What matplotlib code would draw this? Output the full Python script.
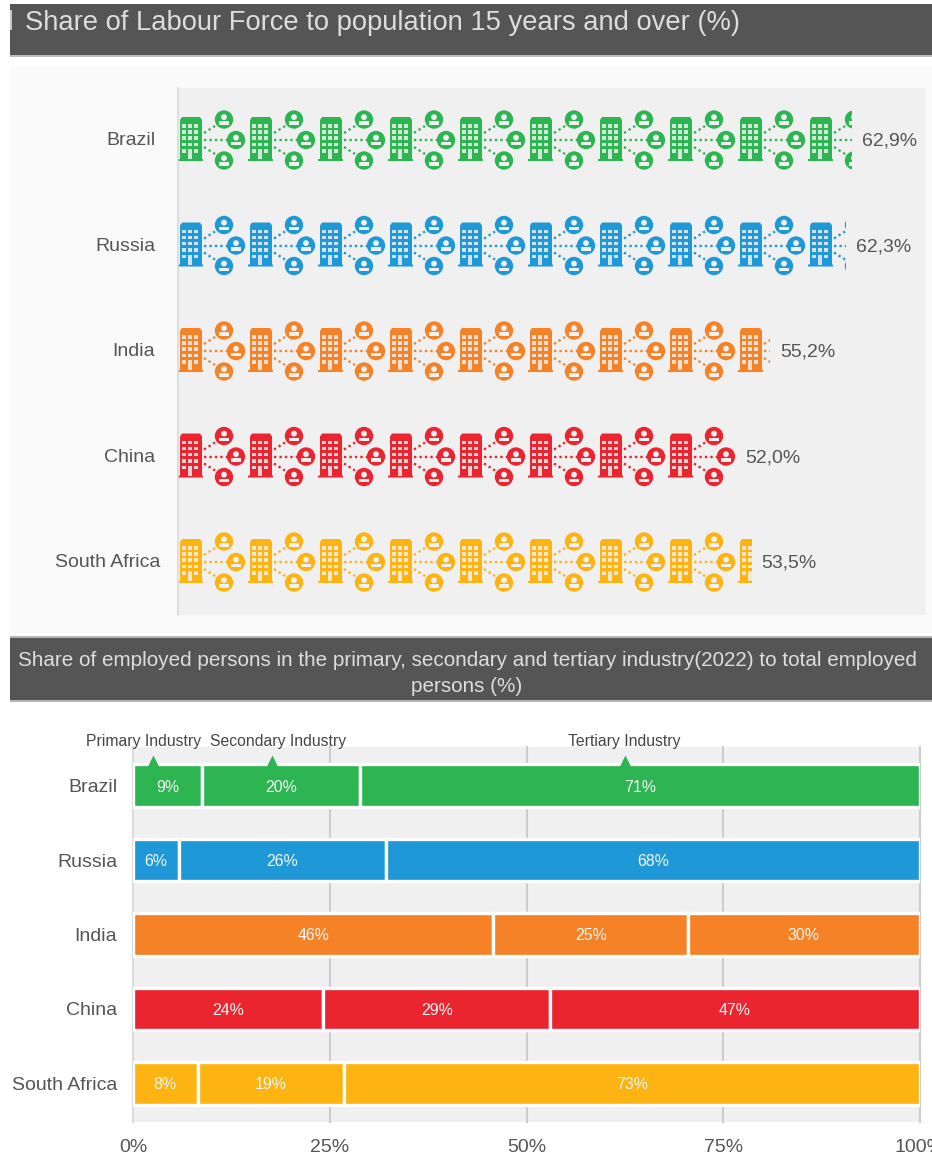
import matplotlib
matplotlib.use("Agg")
import matplotlib.pyplot as plt
from matplotlib.patches import Rectangle, Circle, Polygon
from matplotlib.lines import Line2D
from matplotlib.transforms import Affine2D, ScaledTranslation

plt.rcParams['font.family'] = ['Liberation Sans', 'DejaVu Sans']

countries = ["Brazil", "Russia", "India", "China", "South Africa"]
colors = ["#2db552", "#1e98d6", "#f58227", "#ea2530", "#fdb413"]
labour_share = [62.9, 62.3, 55.2, 52.0, 53.5]
primary = [8.8, 5.8, 45.8, 24.2, 8.2]
secondary = [20.1, 26.3, 24.7, 28.8, 18.6]
tertiary = [71.1, 67.9, 29.5, 47.0, 73.2]
industry_names = ["Primary Industry", "Secondary Industry", "Tertiary Industry"]
x_ticks = [0, 25, 50, 75, 100]
title_top = "Share of Labour Force to population 15 years and over (%)"
title_bottom = ("Share of employed persons in the primary, secondary and tertiary "
                "industry(2022) to total employed\npersons (%)")

W, H = 932, 1155
TEXT = "#555555"
PANEL = "#f0f0f0"
fig = plt.figure(figsize=(W / 100, H / 100), dpi=100, facecolor="white")


def px_axes(x0, y0, x1, y1):
    return fig.add_axes([x0 / W, 1 - y1 / H, (x1 - x0) / W, (y1 - y0) / H])


def px_rect(x0, y0, x1, y1, color):
    fig.patches.append(Rectangle((x0 / W, 1 - y1 / H), (x1 - x0) / W, (y1 - y0) / H,
                                 transform=fig.transFigure, facecolor=color,
                                 edgecolor="none", zorder=-5))


# page furniture
px_rect(10, 4, W, 56, "#555555")
px_rect(10, 55, W, 57, "#bdbdbd")
px_rect(10, 10, 12, 30, "#c9c9c9")
px_rect(10, 66, W, 633, "#fafafa")
px_rect(10, 637, W, 701, "#555555")
px_rect(10, 636, W, 638, "#b5b5b5")
px_rect(10, 700, W, 702, "#b5b5b5")
fig.text(25 / W, 1 - 23 / H, title_top, color="#dddddd", fontsize=19.7, ha="left", va="center")
fig.text(467 / W, 1 - 673.5 / H, title_bottom, color="#dddddd", fontsize=14.9, ha="center",
         va="center", multialignment="center", linespacing=1.48)

# ---------- top pictogram ----------
PX_PER_PCT = 10.72
PX_PER_ROW = 105.5
PERIOD_PX = 70.0
ax1 = px_axes(178, 88, 926, 615)
ax1.set_facecolor(PANEL)
ax1.set_xlim(0, 748 / PX_PER_PCT)
ax1.set_ylim(4.502, -0.493)
for s in ["top", "right", "bottom"]:
    ax1.spines[s].set_visible(False)
ax1.spines["left"].set_color("#d8d8d8")
ax1.spines["left"].set_linewidth(1.2)
ax1.set_xticks([])
ax1.set_yticks(range(len(countries)), countries)
ax1.tick_params(axis="y", length=0, pad=16.5, labelsize=14, labelcolor=TEXT)
for i, lab in enumerate(ax1.get_yticklabels()):
    dx = 5 if i == len(countries) - 1 else 0
    lab.set_transform(lab.get_transform() + ScaledTranslation(dx / 100, 1.2 / 100, fig.dpi_scale_trans))


def draw_icon(ax, row, idx, color, clip):
    tr = Affine2D().translate(idx * PERIOD_PX, 0).scale(1 / PX_PER_PCT, 1 / PX_PER_ROW) \
        .translate(0, row) + ax.transData
    items = [
        Polygon([(2, -20), (4, -23), (22, -23), (24, -20), (24, 19), (25, 19), (25, 21),
                 (0, 21), (0, 19), (2, 19)], closed=True, facecolor=color, edgecolor="none"),
    ]
    for wx in (4.3, 10, 15.8):
        for wy in (-16, -10, -4, 2.5):
            items.append(Rectangle((wx, wy), 4, 3.6, facecolor=PANEL, edgecolor="none", alpha=0.85))
    for wx in (4.3, 15.8):
        items.append(Rectangle((wx, 9), 4, 3.6, facecolor=PANEL, edgecolor="none", alpha=0.85))
    items.append(Rectangle((10, 9), 4, 10, facecolor=PANEL, edgecolor="none", alpha=0.85))
    for cx, cy in ((46, -20.5), (58, 0), (46, 20.5)):
        items.append(Circle((cx, cy), 9.2, facecolor=color, edgecolor="none"))
        items.append(Circle((cx, cy - 2.4), 2.9, facecolor=PANEL, edgecolor="none"))
        items.append(Rectangle((cx - 5, cy + 1.6), 10, 3.6, facecolor=PANEL, edgecolor="none"))
    for item in items:
        item.set_transform(tr)
        ax.add_patch(item)
        item.set_clip_path(clip)
    for xs, ys in (((26, 37), (-7, -14)), ((26, 49), (0, 0)), ((26, 37), (7, 14))):
        ln = Line2D(xs, ys, color=color, lw=1.7, linestyle=(0, (1.0, 1.3)), transform=tr)
        ax.add_line(ln)
        ln.set_clip_path(clip)


for row, (val, col) in enumerate(zip(labour_share, colors)):
    clip = Rectangle((0, row - 0.4), val, 0.8, transform=ax1.transData)
    idx = 0
    while idx * PERIOD_PX / PX_PER_PCT < val:
        draw_icon(ax1, row, idx, col, clip)
        idx += 1
    ax1.annotate(f"{val:.1f}".replace(".", ",") + "%", (val, row), xytext=(10, -1),
                 textcoords="offset pixels", ha="left", va="center", fontsize=14, color=TEXT)

# ---------- bottom stacked bars ----------
ax2 = px_axes(133, 747, 920, 1122)
ax2.set_facecolor(PANEL)
ax2.set_xlim(0, 100)
ax2.set_ylim(4.517, -0.517)
for s in ax2.spines.values():
    s.set_visible(False)
ax2.set_axisbelow(True)
ax2.set_xticks(x_ticks, [f"{t}%" for t in x_ticks])
ax2.set_yticks(range(len(countries)), countries)
ax2.tick_params(axis="both", length=0, labelcolor=TEXT, labelsize=14)
ax2.tick_params(axis="y", pad=11.5)
ax2.tick_params(axis="x", pad=12)
ax2.grid(axis="x", color="#cccccc", lw=1.5)
ax2.grid(axis="y", visible=False)
for gl in ax2.get_xgridlines():
    gl.set_clip_on(False)
ax2.get_xgridlines()[0].set_color("#dcdcdc")

for row, col in enumerate(colors):
    left = 0
    for seg in (primary[row], secondary[row], tertiary[row]):
        ax2.barh(row, seg, left=left, height=0.565, color=col, edgecolor="white", linewidth=2.4, zorder=3)
        ax2.text(left + seg / 2, row + 0.02, f"{seg:.0f}%", ha="center", va="center", color="#f7f7f7",
                 fontsize=11.4, zorder=4)
        left += seg

marker_x = [2.6, 17.7, 62.5]
label_x = [1.3, 18.4, 62.4]
for mx, lx, name in zip(marker_x, label_x, industry_names):
    ax2.plot([mx], [-0.335], marker="^", ms=8.5, color=colors[0], mec="none", zorder=3, clip_on=False)
    ax2.text(lx, -0.597, name, ha="center", va="center", fontsize=11.3, color="#444444", clip_on=False)

fig.savefig("out.png", dpi=100)
